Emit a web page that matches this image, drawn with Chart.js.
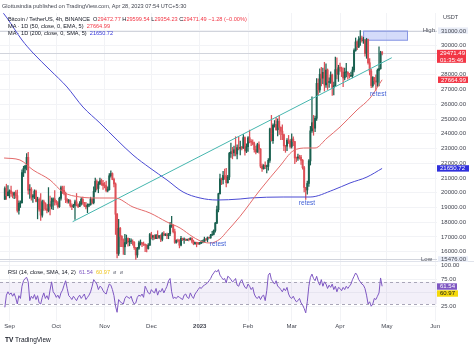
<!DOCTYPE html>
<html>
<head>
<meta charset="utf-8">
<script src="https://cdn.jsdelivr.net/npm/chart.js@4.4.1/dist/chart.umd.min.js"></script>
<style>
  body { margin: 0; background: #fff; width: 474px; height: 347px; overflow: hidden; position: relative;
         font-family: "Liberation Sans", Arial, sans-serif; color: #131722; }
  .pane { position: absolute; left: 0; width: 474px; }
  .t { position: absolute; white-space: nowrap; font-size: 5.6px; line-height: 7px; }
  .r { color: #f23645; }
  .b { color: #3535d8; }
</style>
</head>
<body>
<div class="pane" style="top:0;height:262px"><canvas id="main"></canvas></div>
<div class="pane" style="top:262px;height:85px"><canvas id="rsi"></canvas></div>

<div class="t" style="left:2px;top:3px;color:#434651">Glottusindia published on TradingView.com, Apr 28, 2023 07:54 UTC+5:30</div>
<div class="t" style="left:8px;top:15.5px">Bitcoin / TetherUS, 4h, BINANCE&nbsp; O<span class="r">29472.77</span>&nbsp;H<span class="r">29599.54</span>&nbsp;L<span class="r">29354.23</span>&nbsp;C<span class="r">29471.49</span>&nbsp;<span class="r">−1.28 (−0.00%)</span></div>
<div class="t" style="left:8px;top:23px">MA · 1D (50, close, 0, EMA, 5)&nbsp; <span class="r">27664.99</span></div>
<div class="t" style="left:8px;top:30px">MA · 1D (200, close, 0, SMA, 5)&nbsp; <span class="b">21650.72</span></div>
<div class="t" style="left:443px;top:14px;color:#434651">USDT</div>
<div class="t" style="left:8px;top:268.5px">RSI (14, close, SMA, 14, 2)&nbsp; <span style="color:#7e57c2">61.54</span>&nbsp; <span style="color:#f0c419">60.97</span>&nbsp; <span style="color:#787b86">ø&nbsp; ø</span></div>
<div class="t" style="left:5px;top:335.5px;font-size:6.5px"><b>TV</b> TradingView</div>

<script>
const FONT = '"Liberation Sans", Arial, sans-serif';

// day 0 = Sep 1, 2022; first candle is Aug 29
const startDay = -3;
const firstOpen = 19550;
const closes = [
  20280, 19800, 20050, 20130, 19950, 19830, 20000, 19800, 18800, 19290,
  19320, 21360, 21650, 21830, 22400, 20170, 20240, 19700, 19800, 20110,
  19420, 19540, 18880, 18480, 19400, 19300, 18920, 18800, 19220, 19080,
  19410, 19590, 19420, 19310, 19060, 19620, 20340, 20160, 19960, 19530,
  19420, 19450, 19130, 19060, 19150, 19380, 19180, 19070, 19270, 19550,
  19330, 19130, 19040, 19160, 19200, 19570, 19330, 20090, 20770, 20290,
  20600, 20810, 20630, 20490, 20480, 20150, 20210, 21150, 21300, 20900,
  20600, 18540, 15880, 17590, 17040, 16800, 16330, 16620, 16900, 16660,
  16690, 16700, 16630, 16280, 15780, 16230, 16600, 16600, 16520, 16460,
  16440, 16220, 16440, 17170, 16980, 17090, 16890, 17110, 16970, 17090,
  16840, 17230, 17130, 17130, 17090, 17210, 17780, 17800, 17360, 16630,
  16780, 16740, 16440, 16900, 16820, 16830, 16780, 16840, 16830, 16920,
  16710, 16550, 16630, 16600, 16540, 16610, 16670, 16680, 16850, 16830,
  16950, 16940, 17120, 17180, 17440, 17940, 18850, 19930, 20950, 20880,
  21180, 21130, 20680, 21070, 22670, 22780, 22710, 22920, 22630, 23060,
  23010, 23080, 23030, 23740, 22830, 23130, 23730, 23490, 23430, 23330,
  22930, 22760, 23260, 22960, 21800, 21630, 21860, 21780, 21790, 22200,
  24330, 23530, 24570, 24630, 24280, 24840, 24440, 24180, 23940, 23180,
  23160, 23560, 23490, 23140, 23640, 23470, 22360, 22350, 22430, 22410,
  22200, 21700, 20360, 20190, 20630, 22160, 24200, 24750, 24380, 25050,
  27420, 26970, 28040, 27770, 28170, 27310, 28330, 27490, 27490, 27990,
  27140, 27260, 28350, 28030, 28480, 28450, 28200, 27790, 28170, 28180,
  28040, 27920, 27950, 28330, 29650, 30230, 29890, 30400, 30490, 30320,
  30320, 29440, 30390, 28820, 28250, 27270, 27820, 27590, 27510, 28300,
  28420, 29480, 29470,
];
const highs = [
  20400, 20580, 20480, 20200, 20450, 20050, 20050, 20150, 20180, 19460,
  19450, 21550, 21800, 21850, 22650, 22750, 20550, 20350, 19900, 20200,
  20180, 19700, 19650, 19950, 19500, 19500, 19320, 19200, 20350, 19780,
  19650, 19650, 20150, 19480, 19400, 19700, 20450, 20450, 20450, 20050,
  19600, 19550, 19520, 19250, 19220, 19500, 19950, 19230, 19400, 19680,
  19700, 19350, 19350, 19250, 19250, 19700, 19600, 20400, 21000, 20880,
  20750, 20990, 20930, 20840, 20700, 20800, 20400, 21300, 21480, 21350,
  21000, 20670, 18600, 18200, 17650, 17100, 16880, 17180, 17130, 16950,
  16900, 16880, 16800, 16680, 16300, 16300, 16720, 16800, 16620, 16660,
  16530, 16480, 16550, 17250, 17320, 17100, 17150, 17180, 17420, 17100,
  17140, 17300, 17360, 17230, 17270, 17240, 18000, 18400, 17840, 17530,
  16800, 16850, 16820, 17050, 16920, 16950, 16870, 16860, 16880, 16940,
  16950, 16790, 16650, 16640, 16630, 16630, 16760, 16790, 16990, 16880,
  17000, 16980, 17180, 17390, 17490, 18000, 19100, 19970, 21260, 21000,
  21450, 21600, 21650, 21180, 22750, 23370, 23080, 23170, 23800, 23250,
  23800, 23500, 23150, 23950, 23800, 23320, 23810, 24250, 23600, 23590,
  23440, 23160, 23360, 23450, 23000, 21940, 21910, 22090, 21880, 22320,
  24380, 25250, 24670, 24900, 25120, 25020, 25250, 24470, 24600, 23980,
  23220, 23680, 23890, 23600, 24000, 23790, 23480, 22420, 22630, 22550,
  22540, 22260, 21800, 20370, 20790, 22250, 24500, 26500, 25250, 25200,
  27750, 27730, 28400, 28500, 28450, 28850, 28750, 28400, 27800, 28200,
  28050, 27500, 29200, 29150, 28650, 28800, 28530, 28480, 28450, 28780,
  28200, 28100, 28180, 28530, 29770, 30500, 30300, 30600, 31000, 30620,
  30550, 30400, 30480, 30420, 29100, 28370, 27880, 27820, 28000, 28400,
  29900, 29600, 29600,
];
const lows = [
  19550, 19550, 19780, 19650, 19750, 19650, 19600, 19640, 18680, 18550,
  19000, 19300, 21100, 21350, 21550, 19900, 19620, 19500, 19350, 19600,
  19380, 18230, 18750, 18130, 18350, 18800, 18820, 18630, 18700, 18500,
  18900, 18850, 19150, 19170, 18950, 19000, 19500, 19950, 19850, 19330,
  19300, 19300, 19030, 18860, 18990, 18190, 19100, 18980, 19050, 19150,
  19200, 19050, 18900, 18650, 19050, 19150, 19250, 19250, 20050, 20200,
  20000, 20550, 20500, 20230, 20330, 20050, 20050, 20180, 21050, 20880,
  20400, 17170, 15580, 15750, 16350, 16350, 15820, 15800, 16530, 16380,
  16400, 16550, 16450, 16150, 15480, 15620, 16150, 16450, 16350, 16420,
  16000, 15990, 16180, 16420, 16860, 16800, 16850, 16880, 16880, 16900,
  16680, 16740, 17080, 17090, 16880, 16880, 17080, 17650, 17280, 16560,
  16580, 16670, 16260, 16400, 16760, 16560, 16750, 16770, 16730, 16800,
  16590, 16470, 16490, 16330, 16480, 16500, 16540, 16600, 16650, 16750,
  16670, 16910, 16910, 17100, 17140, 17320, 17900, 18700, 19900, 20550,
  20600, 20900, 20400, 20650, 20880, 22400, 22300, 22500, 22500, 22300,
  22900, 22560, 22900, 23000, 22550, 22720, 22800, 23380, 23200, 23250,
  22750, 22630, 22740, 22680, 21690, 21450, 21600, 21640, 21350, 21530,
  22050, 23510, 23340, 24450, 24220, 23850, 23950, 23600, 23600, 22850,
  22740, 22860, 23340, 23020, 23030, 23200, 21970, 22100, 22200, 22280,
  21930, 21600, 20050, 19550, 19900, 20430, 21880, 24100, 23900, 24150,
  24900, 26650, 26800, 27250, 27400, 26900, 27150, 27000, 27150, 27420,
  26600, 26630, 27230, 27720, 27550, 28250, 27880, 27200, 27650, 27850,
  27700, 27780, 27880, 27800, 28200, 29600, 29700, 29850, 30000, 30220,
  30130, 29270, 29120, 28730, 28000, 27130, 27160, 27360, 26950, 27200,
  27250, 28380, 29350,
];
const rsiValues = [
  24, 46, 52, 47, 50, 44, 49, 41, 30, 45,
  40, 62, 72, 76, 78, 70, 36, 44, 40, 47,
  38, 45, 32, 30, 42, 50, 40, 45, 38, 55,
  70, 52, 48, 42, 46, 40, 50, 55, 64, 72,
  58, 45, 42, 38, 44, 40, 36, 42, 46, 40,
  44, 48, 38, 42, 46, 52, 62, 74, 70, 66,
  56, 62, 60, 54, 50, 48, 58, 66, 64, 56,
  45, 26, 15, 38, 34, 32, 30, 40, 44, 42,
  40, 44, 35, 30, 32, 42, 46, 44, 48, 42,
  62, 56, 50, 48, 56, 52, 50, 58, 46, 54,
  52, 58, 50, 56, 62, 72, 76, 52, 40, 42,
  40, 44, 42, 40, 38, 46, 48, 42, 40, 50,
  44, 40, 48, 52, 56, 60, 58, 62, 64, 66,
  68, 72, 76, 82, 86, 90, 88, 92, 82, 78,
  74, 76, 68, 80, 78, 74, 70, 72, 76, 64,
  62, 70, 74, 66, 60, 58, 66, 62, 56, 60,
  48, 42, 40, 44, 38, 44, 46, 36, 54, 82,
  86, 74, 70, 66, 72, 62, 60, 56, 52, 58,
  54, 60, 48, 42, 40, 44, 38, 34, 36, 40,
  32, 28, 22, 14, 34, 62, 78, 84, 76, 72,
  80, 70, 64, 74, 62, 70, 66, 58, 64, 60,
  66, 56, 62, 52, 60, 58, 54, 60, 56, 62,
  58, 62, 66, 74, 80, 86, 82, 74, 70, 66,
  64, 58, 46, 30, 34, 26, 30, 40, 38, 44,
  50, 77, 62,
];

const ma50Days = [-3.5, 6.7, 15.1, 26, 34.3, 45.2, 58, 67.7, 79.2, 90.1, 101, 109.4, 117.7, 124.1, 128.7, 135, 139.5, 147.9, 160.7, 173.5, 181.8, 190.8, 196, 203.7, 212, 222.9, 231.3, 239];
const ma50Values = [22357, 22222, 21543, 20865, 20050, 19711, 19643, 19643, 19033, 18626, 18015, 17608, 16998, 16659, 16590, 16860, 17380, 18400, 20187, 21815, 22833, 23036, 23036, 23714, 24460, 25614, 26428, 27665];
const ma200Days = [-6, -1.6, 8, 15.1, 26, 36.9, 47.1, 58, 69, 79.2, 90.1, 101, 111.3, 122.2, 133.1, 147.9, 154.3, 175.5, 192.8, 207.6, 218.4, 229.3, 239];
const ma200Values = [32460, 31855, 30362, 29480, 28327, 27174, 25817, 24731, 23578, 22560, 21679, 20865, 20051, 19644, 19508, 19576, 19644, 19711, 19711, 20186, 20661, 21068, 21650];
const trendDays = [40.5, 245.2];
const trendPrices = [18036, 29161];
const zoneDays = [226.8, 255.6];
const zonePrices = [30315, 31000];
const retestDays = [133.7, 190.8, 236.4];
const retestPrices = [16523, 19304, 26699];

const monthDays = [0, 30, 61, 91, 122, 153, 181, 212, 242, 273];
const monthLabels = ["Sep", "Oct", "Nov", "Dec", "2023", "Feb", "Mar", "Apr", "May", "Jun"];
const priceTicks = [16000, 17000, 18000, 19000, 20000, 21000, 22000, 23000, 24000, 25000, 26000, 27000, 28000, 29000, 30000, 31000];
const rsiTicks = [25, 50, 75, 100];

const lastPrice = 29471.49;
const countdown = "01:35:46";
const lastMa50 = 27664.99;
const lastMa200 = 21650.72;
const periodHigh = 31000;
const periodLow = 15476;
const lastRsi = 61.54;
const lastRsiMa = 60.97;

const UP = "#1a6150";
const DOWN = "#de5058";
const AXIS_W = 37;

const days = closes.map((_, i) => startDay + i);
const opens = closes.map((c, i) => (i === 0 ? firstOpen : closes[i - 1]));
const candleColors = closes.map((c, i) => (c >= opens[i] ? UP : DOWN));

function timeAxis(showLabels) {
  return {
    type: "linear",
    min: -6.1,
    max: 274.2,
    offset: false,
    afterBuildTicks: (axis) => { axis.ticks = monthDays.map((v) => ({ value: v })); },
    afterFit: (axis) => { axis.height = showLabels ? 12 : 0; axis.paddingLeft = 0; axis.paddingRight = 0; },
    grid: { color: "#f2f3f6", drawTicks: false, offset: false },
    border: { display: false },
    ticks: {
      display: showLabels,
      padding: 2,
      maxRotation: 0,
      autoSkip: false,
      color: "#434651",
      font: (ctx) => ({ family: FONT, size: 6, weight: ctx.tick && ctx.tick.value === 122 ? "bold" : "normal" }),
      callback: (v) => monthLabels[monthDays.indexOf(v)] ?? "",
    },
  };
}

function valueAxis(min, max, tickValues) {
  return {
    type: "linear",
    position: "right",
    min,
    max,
    afterBuildTicks: (axis) => { axis.ticks = tickValues.map((v) => ({ value: v })); },
    afterFit: (axis) => { axis.width = AXIS_W; axis.paddingTop = 0; axis.paddingBottom = 0; },
    grid: { color: "#f2f3f6", drawTicks: false },
    border: { display: false },
    ticks: { padding: 4, color: "#434651", font: { family: FONT, size: 6 }, callback: (v) => v.toFixed(2) },
  };
}

function badge(ctx, x, top, w, h, bg, fg, lines) {
  ctx.fillStyle = bg;
  ctx.fillRect(x, top, w, h);
  ctx.fillStyle = fg;
  ctx.font = `6px ${FONT}`;
  ctx.textAlign = "left";
  ctx.textBaseline = "middle";
  const step = h / lines.length;
  lines.forEach((s, i) => ctx.fillText(s, x + 3, top + step * (i + 0.5) + 0.3));
}

const mainOverlay = {
  id: "mainOverlay",
  beforeDatasetsDraw(chart) {
    const { ctx, chartArea: a, scales: { x, y } } = chart;
    ctx.save();
    ctx.strokeStyle = "#d1d4dc";
    ctx.lineWidth = 1;
    [periodHigh, lastPrice, periodLow].forEach((v) => {
      const py = Math.round(y.getPixelForValue(v)) + 0.5;
      ctx.beginPath();
      ctx.moveTo(a.left, py);
      ctx.lineTo(a.right, py);
      ctx.stroke();
    });
    const x0 = x.getPixelForValue(zoneDays[0]);
    const x1 = x.getPixelForValue(zoneDays[1]);
    const y0 = y.getPixelForValue(zonePrices[1]);
    const y1 = y.getPixelForValue(zonePrices[0]);
    ctx.fillStyle = "rgba(125,145,240,0.33)";
    ctx.fillRect(x0, y0, x1 - x0, y1 - y0);
    ctx.strokeStyle = "#8796e3";
    ctx.strokeRect(x0 + 0.5, y0 + 0.5, x1 - x0 - 1, y1 - y0 - 1);
    ctx.restore();
  },
  afterDatasetsDraw(chart) {
    const { ctx, scales: { x, y } } = chart;
    ctx.save();
    ctx.fillStyle = "#3f5fd6";
    ctx.font = `6.5px ${FONT}`;
    ctx.textAlign = "center";
    ctx.textBaseline = "middle";
    retestDays.forEach((d, i) => ctx.fillText("retest", x.getPixelForValue(d), y.getPixelForValue(retestPrices[i])));
    ctx.restore();
  },
  afterDraw(chart) {
    const { ctx, chartArea: a, scales: { y } } = chart;
    ctx.save();
    ctx.strokeStyle = "#e0e3eb";
    ctx.lineWidth = 1;
    ctx.beginPath();
    ctx.moveTo(0, a.bottom - 0.5);
    ctx.lineTo(474, a.bottom - 0.5);
    ctx.stroke();

    const ax = a.right;
    ctx.font = `6px ${FONT}`;
    ctx.textBaseline = "middle";
    ctx.textAlign = "right";
    ctx.fillStyle = "#50535e";
    ctx.fillText("High", ax - 2, y.getPixelForValue(periodHigh));
    ctx.fillText("Low", ax - 5, y.getPixelForValue(periodLow));
    const hy = y.getPixelForValue(periodHigh);
    badge(ctx, ax + 1, hy - 3.2, 30, 6.4, "#e9edf7", "#434651", [periodHigh.toFixed(2)]);
    const ly = y.getPixelForValue(periodLow);
    badge(ctx, ax + 1, ly - 3.2, 30, 6.4, "#e9edf7", "#434651", [periodLow.toFixed(2)]);

    const py = y.getPixelForValue(lastPrice);
    badge(ctx, ax, py - 3.3, 29, 13, "#f23645", "#fff", [lastPrice.toFixed(2), countdown]);
    const m50 = y.getPixelForValue(lastMa50);
    badge(ctx, ax + 1, m50 - 3.2, 30, 6.4, "#f23645", "#fff", [lastMa50.toFixed(2)]);
    const m200 = y.getPixelForValue(lastMa200);
    badge(ctx, ax, m200 - 3.2, 32, 6.4, "#3030dc", "#fff", [lastMa200.toFixed(2)]);
    ctx.restore();
  },
};

new Chart(document.getElementById("main"), {
  type: "line",
  data: {
    datasets: [
      {
        type: "bar",
        label: "wick",
        data: days.map((d, i) => ({ x: d, y: [lows[i], highs[i]] })),
        backgroundColor: candleColors,
        barThickness: 0.6,
        grouped: false,
        order: 4,
      },
      {
        type: "bar",
        label: "body",
        data: days.map((d, i) => ({ x: d, y: [opens[i], closes[i]] })),
        backgroundColor: candleColors,
        barThickness: 1.3,
        minBarLength: 0.7,
        grouped: false,
        order: 3,
      },
      {
        label: "MA 50",
        data: ma50Days.map((d, i) => ({ x: d, y: ma50Values[i] })),
        borderColor: "#e36a6a",
        borderWidth: 1,
        pointRadius: 0,
        cubicInterpolationMode: "monotone",
        order: 1,
      },
      {
        label: "MA 200",
        data: ma200Days.map((d, i) => ({ x: d, y: ma200Values[i] })),
        borderColor: "#4b4bd3",
        borderWidth: 1,
        pointRadius: 0,
        cubicInterpolationMode: "monotone",
        order: 1,
      },
      {
        label: "trend",
        data: trendDays.map((d, i) => ({ x: d, y: trendPrices[i] })),
        borderColor: "#45b6ae",
        borderWidth: 1,
        pointRadius: 0,
        order: 1,
      },
    ],
  },
  options: {
    animation: false,
    responsive: true,
    maintainAspectRatio: false,
    layout: { padding: { top: 13, left: 0, right: 0, bottom: 0 } },
    plugins: { legend: { display: false }, tooltip: { enabled: false } },
    scales: {
      x: timeAxis(false),
      y: valueAxis(15302, 32194, priceTicks),
    },
  },
  plugins: [mainOverlay],
});

const rsiOverlay = {
  id: "rsiOverlay",
  beforeDatasetsDraw(chart) {
    const { ctx, chartArea: a, scales: { y } } = chart;
    ctx.save();
    const y70 = y.getPixelForValue(70);
    const y30 = y.getPixelForValue(30);
    ctx.fillStyle = "rgba(126,87,194,0.09)";
    ctx.fillRect(a.left, y70, a.right - a.left, y30 - y70);
    ctx.strokeStyle = "#a9a6b8";
    ctx.lineWidth = 1;
    ctx.setLineDash([3, 3]);
    [y70, y30].forEach((py) => {
      ctx.beginPath();
      ctx.moveTo(a.left, Math.round(py) + 0.5);
      ctx.lineTo(a.right, Math.round(py) + 0.5);
      ctx.stroke();
    });
    ctx.restore();
  },
  afterDraw(chart) {
    const { ctx, chartArea: a, scales: { y } } = chart;
    ctx.save();
    const ry = y.getPixelForValue(lastRsi);
    badge(ctx, a.right, ry - 3.2, 20, 6.4, "#7e57c2", "#fff", [lastRsi.toFixed(2)]);
    badge(ctx, a.right, ry + 3.8, 21, 6.4, "#f5d90a", "#131722", [lastRsiMa.toFixed(2)]);
    ctx.restore();
  },
};

new Chart(document.getElementById("rsi"), {
  type: "line",
  data: {
    datasets: [
      {
        label: "RSI",
        data: rsiValues.map((v, i) => ({ x: days[i], y: v })),
        borderColor: "#7e57c2",
        borderWidth: 1,
        pointRadius: 0,
      },
    ],
  },
  options: {
    animation: false,
    responsive: true,
    maintainAspectRatio: false,
    layout: { padding: { top: 0, left: 0, right: 0, bottom: 14 } },
    plugins: { legend: { display: false }, tooltip: { enabled: false } },
    scales: {
      x: timeAxis(true),
      y: valueAxis(-0.7, 105.8, rsiTicks),
    },
  },
  plugins: [rsiOverlay],
});
</script>
</body>
</html>
